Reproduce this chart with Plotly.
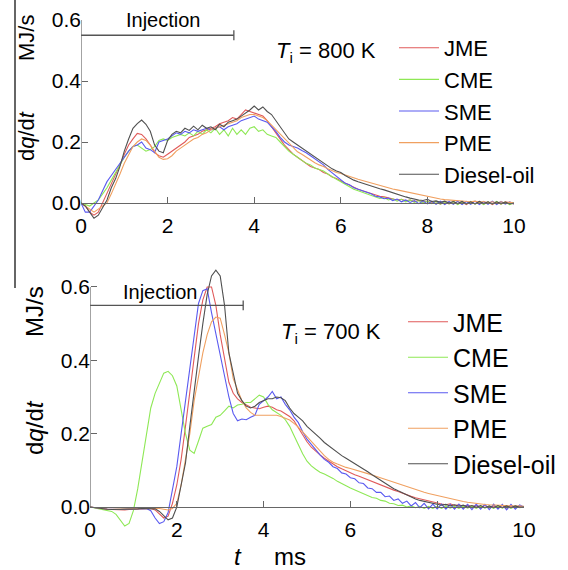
import numpy as np
import plotly.graph_objects as go

# time axis (ms), 0.1 ms step
t = [round(0.1 * i, 1) for i in range(101)]

series_names = ["JME", "CME", "SME", "PME", "Diesel-oil"]
colors = ["#e05a5a", "#8ee855", "#5a5af0", "#f0a060", "#505050"]

# ---------------- Ti = 800 K ----------------
jme_800 = [0, -0.01, -0.03, -0.04, -0.03, 0.0, 0.03, 0.06, 0.09, 0.125,
           0.16, 0.19, 0.21, 0.228, 0.225, 0.21, 0.19, 0.165, 0.155, 0.15,
           0.16, 0.17, 0.18, 0.19, 0.2, 0.215, 0.22, 0.225, 0.235, 0.24,
           0.245, 0.25, 0.26, 0.265, 0.27, 0.28, 0.275, 0.29, 0.305, 0.3,
           0.295, 0.29, 0.285, 0.27, 0.25, 0.23, 0.21, 0.19, 0.175, 0.16,
           0.15, 0.14, 0.13, 0.12, 0.115, 0.11, 0.1, 0.095, 0.085, 0.08,
           0.072, 0.065, 0.058, 0.05, 0.045, 0.04, 0.035, 0.03, 0.027, 0.022,
           0.02, 0.016, 0.013, 0.01, 0.012, 0.007, 0.01, 0.005, 0.008, 0.003,
           0.006, 0.0, 0.005, -0.004, 0.004, -0.003, 0.005, -0.004, 0.003, -0.005,
           0.004, -0.003, 0.005, -0.004, 0.004, -0.005, 0.003, -0.004, 0.004, 0.0,
           -0.003]
cme_800 = [0, -0.005, -0.01, 0.0, 0.01, 0.03, 0.05, 0.075, 0.1, 0.125,
           0.15, 0.17, 0.185, 0.19, 0.18, 0.17, 0.175, 0.185, 0.205, 0.21,
           0.205, 0.215, 0.22, 0.225, 0.22, 0.23, 0.22, 0.235, 0.225, 0.24,
           0.23, 0.245, 0.225, 0.24, 0.22, 0.245, 0.225, 0.24, 0.225, 0.245,
           0.25, 0.235, 0.24, 0.225, 0.22, 0.215, 0.2, 0.185, 0.17, 0.16,
           0.15, 0.14, 0.13, 0.125, 0.115, 0.11, 0.105, 0.095, 0.085, 0.078,
           0.07, 0.062, 0.055, 0.045, 0.04, 0.035, 0.03, 0.025, 0.022, 0.015,
           0.018, 0.01, 0.014, 0.006, 0.012, 0.004, 0.01, 0.002, 0.008, 0.0,
           0.006, -0.002, 0.005, -0.004, 0.004, -0.003, 0.005, -0.005, 0.004, -0.003,
           0.005, -0.004, 0.003, -0.005, 0.004, -0.003, 0.005, -0.004, 0.003, -0.005,
           0.0]
sme_800 = [0, -0.03, -0.03, -0.01, 0.01, 0.04, 0.07, 0.09, 0.11, 0.13,
           0.15, 0.17, 0.185, 0.19, 0.2, 0.18, 0.175, 0.165, 0.2, 0.205,
           0.21, 0.22, 0.23, 0.225, 0.235, 0.23, 0.24, 0.235, 0.24, 0.245,
           0.24, 0.245, 0.25, 0.24, 0.25, 0.255, 0.26, 0.27, 0.275, 0.28,
           0.285, 0.275, 0.27, 0.265, 0.25, 0.235, 0.215, 0.2, 0.19, 0.185,
           0.18, 0.172, 0.165, 0.155, 0.145, 0.135, 0.125, 0.11, 0.098, 0.086,
           0.075, 0.065, 0.06, 0.05, 0.045, 0.04, 0.033, 0.03, 0.022, 0.02,
           0.014, 0.016, 0.008, 0.013, 0.004, 0.01, 0.002, 0.008, -0.002, 0.007,
           -0.003, 0.006, -0.004, 0.006, -0.005, 0.005, -0.004, 0.006, -0.005, 0.005,
           -0.004, 0.006, -0.005, 0.005, -0.004, 0.006, -0.005, 0.005, -0.004, 0.004,
           -0.003]
pme_800 = [0, -0.01, -0.02, -0.03, -0.02, -0.01, 0.0, 0.03, 0.06, 0.095,
           0.13, 0.16, 0.185, 0.2, 0.21, 0.205, 0.19, 0.17, 0.15, 0.143,
           0.145, 0.155, 0.17, 0.18, 0.19, 0.2, 0.21, 0.215, 0.225, 0.23,
           0.24, 0.245, 0.25, 0.255, 0.26, 0.265, 0.27, 0.28, 0.285, 0.29,
           0.29, 0.285, 0.28, 0.27, 0.255, 0.24, 0.225, 0.21, 0.195, 0.18,
           0.168, 0.16, 0.15, 0.14, 0.132, 0.125, 0.12, 0.112, 0.106, 0.1,
           0.097, 0.092, 0.086, 0.082, 0.078, 0.074, 0.07, 0.065, 0.06, 0.057,
           0.053, 0.05, 0.046, 0.043, 0.04, 0.037, 0.033, 0.03, 0.026, 0.023,
           0.02, 0.018, 0.015, 0.013, 0.011, 0.01, 0.008, 0.007, 0.006, 0.005,
           0.004, 0.006, 0.002, 0.005, 0.001, 0.004, 0.0, 0.004, 0.0, 0.003,
           0.0]
diesel_800 = [0, -0.01, -0.03, -0.05, -0.04, -0.015, 0.01, 0.05, 0.08, 0.12,
              0.17, 0.21, 0.245, 0.26, 0.272, 0.258, 0.235, 0.19, 0.17, 0.165,
              0.205, 0.225, 0.235, 0.23, 0.245, 0.238, 0.252, 0.24, 0.255, 0.245,
              0.25, 0.24, 0.258, 0.25, 0.265, 0.27, 0.275, 0.285, 0.295, 0.305,
              0.318, 0.305, 0.315, 0.3, 0.29, 0.27, 0.25, 0.23, 0.21, 0.2,
              0.19, 0.18, 0.17, 0.16, 0.15, 0.14, 0.13, 0.12, 0.112, 0.105,
              0.1, 0.09, 0.082, 0.075, 0.07, 0.065, 0.06, 0.055, 0.05, 0.047,
              0.043, 0.038, 0.034, 0.03, 0.025, 0.02, 0.016, 0.012, 0.01, 0.008,
              0.012, 0.005, 0.007, 0.002, 0.006, 0.0, 0.005, -0.002, 0.005, -0.003,
              0.004, -0.003, 0.005, -0.002, 0.004, -0.003, 0.004, -0.002, 0.003, -0.003,
              0.0]

# ---------------- Ti = 700 K ----------------
jme_700 = [0, -0.002, -0.004, -0.005, -0.006, -0.007, -0.008, -0.008, -0.008, -0.007,
           -0.006, -0.005, -0.005, -0.004, -0.004, -0.008, -0.02, -0.03, -0.025, 0.01,
           0.06, 0.13, 0.22, 0.31, 0.41, 0.5, 0.565, 0.6, 0.6, 0.55,
           0.47, 0.4, 0.34, 0.31, 0.295, 0.285, 0.278, 0.272, 0.27, 0.268,
           0.272, 0.275, 0.272, 0.265, 0.262, 0.255, 0.247, 0.235, 0.215, 0.195,
           0.178, 0.163, 0.152, 0.142, 0.133, 0.125, 0.118, 0.11, 0.104, 0.098,
           0.093, 0.088, 0.084, 0.079, 0.075, 0.07, 0.066, 0.061, 0.056, 0.051,
           0.046, 0.042, 0.037, 0.033, 0.029, 0.025, 0.022, 0.018, 0.015, 0.012,
           0.01, 0.008, 0.006, 0.009, 0.004, 0.006, 0.002, 0.005, 0.001, 0.004,
           0.0, 0.004, -0.002, 0.003, -0.002, 0.004, -0.003, 0.003, -0.002, 0.002,
           0.0]
cme_700 = [0, -0.002, -0.005, -0.008, -0.01, -0.012, -0.02, -0.035, -0.052, -0.045,
           -0.01, 0.05, 0.12, 0.2, 0.27, 0.31, 0.34, 0.365, 0.37, 0.358,
           0.33, 0.27, 0.2, 0.155, 0.146, 0.18, 0.215, 0.22, 0.225, 0.245,
           0.25, 0.262, 0.275, 0.27, 0.278, 0.28, 0.285, 0.285, 0.295, 0.305,
           0.3, 0.28, 0.265, 0.258, 0.25, 0.238, 0.22, 0.195, 0.17, 0.145,
           0.125, 0.112, 0.103, 0.095, 0.09, 0.085, 0.078, 0.07, 0.065, 0.058,
           0.052, 0.047, 0.043, 0.036, 0.032, 0.026, 0.024, 0.018, 0.016, 0.01,
           0.009, 0.004, 0.005, 0.0, 0.003, -0.002, 0.002, -0.004, 0.002, -0.004,
           0.002, -0.004, 0.003, -0.003, 0.002, -0.004, 0.003, -0.003, 0.002, -0.004,
           0.003, -0.003, 0.002, -0.004, 0.003, -0.003, 0.002, -0.004, 0.002, -0.002,
           0.0]
sme_700 = [0, -0.002, -0.004, -0.005, -0.006, -0.006, -0.007, -0.007, -0.006, -0.006,
           -0.005, -0.005, -0.004, -0.004, -0.01, -0.03, -0.045, -0.04, -0.015, 0.05,
           0.11, 0.2, 0.29, 0.38, 0.48, 0.555, 0.59, 0.595, 0.53, 0.47,
           0.42, 0.36, 0.3, 0.255, 0.235, 0.24, 0.238, 0.245, 0.25, 0.28,
           0.29, 0.3, 0.315, 0.295, 0.3, 0.28, 0.265, 0.245, 0.23, 0.205,
           0.185, 0.17, 0.155, 0.142, 0.13, 0.122, 0.11, 0.105, 0.093, 0.09,
           0.08, 0.077, 0.066, 0.064, 0.052, 0.05, 0.04, 0.04, 0.028, 0.03,
           0.018, 0.022, 0.01, 0.016, 0.003, 0.012, -0.002, 0.01, -0.005, 0.008,
           -0.005, 0.008, -0.006, 0.007, -0.006, 0.008, -0.006, 0.007, -0.007, 0.008,
           -0.006, 0.007, -0.007, 0.008, -0.006, 0.007, -0.008, 0.007, -0.006, 0.006,
           0.0]
pme_700 = [0, -0.002, -0.004, -0.005, -0.006, -0.006, -0.006, -0.006, -0.005, -0.005,
           -0.004, -0.004, -0.004, -0.003, -0.003, -0.003, -0.004, -0.006, -0.008, -0.004,
           0.01, 0.06, 0.13, 0.2, 0.29, 0.36, 0.42, 0.47, 0.505, 0.518,
           0.515, 0.47, 0.42, 0.35, 0.32, 0.29, 0.27, 0.258, 0.25, 0.25,
           0.248, 0.25, 0.25, 0.25, 0.247, 0.243, 0.237, 0.228, 0.218, 0.205,
           0.192, 0.178, 0.165, 0.152, 0.14, 0.13, 0.122, 0.117, 0.112, 0.108,
           0.105, 0.102, 0.098, 0.095, 0.091, 0.087, 0.083, 0.078, 0.074, 0.07,
           0.066, 0.062, 0.058, 0.054, 0.05, 0.047, 0.044, 0.04, 0.037, 0.034,
           0.031, 0.028, 0.025, 0.022, 0.019, 0.017, 0.015, 0.013, 0.011, 0.01,
           0.008, 0.007, 0.006, 0.005, 0.005, 0.004, 0.004, 0.003, 0.003, 0.002,
           0.002]
diesel_700 = [0, -0.002, -0.004, -0.005, -0.006, -0.007, -0.007, -0.007, -0.006, -0.006,
              -0.005, -0.005, -0.004, -0.004, -0.004, -0.005, -0.012, -0.025, -0.035, -0.03,
              0.0, 0.06, 0.12, 0.22, 0.32, 0.41, 0.5, 0.58, 0.63, 0.646,
              0.63, 0.55, 0.42, 0.36, 0.31, 0.29, 0.275, 0.27, 0.275, 0.285,
              0.29, 0.295, 0.295, 0.3, 0.298, 0.29, 0.27, 0.255, 0.245, 0.235,
              0.22, 0.21, 0.198, 0.188, 0.176, 0.167, 0.158, 0.148, 0.14, 0.133,
              0.126, 0.118, 0.11, 0.103, 0.096, 0.088, 0.08, 0.073, 0.065, 0.058,
              0.05, 0.044, 0.038, 0.032, 0.026, 0.022, 0.018, 0.015, 0.013, 0.01,
              0.008, 0.005, 0.007, 0.003, 0.006, 0.002, 0.005, 0.0, 0.004, -0.001,
              0.004, -0.002, 0.003, -0.002, 0.004, -0.002, 0.003, -0.002, 0.003, -0.001,
              0.0]

data_800 = [jme_800, cme_800, sme_800, pme_800, diesel_800]
data_700 = [jme_700, cme_700, sme_700, pme_700, diesel_700]

# injection period markers
injection_end = 3.53
injection_level = 0.55

W, H = 568, 570
FONT = "Liberation Sans, Arial, sans-serif"

def px(x):
    return x / W

def py(y):
    return 1 - y / H

fig = go.Figure()

for name, col, ys in zip(series_names, colors, data_800):
    fig.add_trace(go.Scatter(x=t, y=ys, mode="lines", name=name,
                             line=dict(color=col, width=1.1),
                             xaxis="x", yaxis="y", legend="legend"))
for name, col, ys in zip(series_names, colors, data_700):
    fig.add_trace(go.Scatter(x=t, y=ys, mode="lines", name=name,
                             line=dict(color=col, width=1.1),
                             xaxis="x2", yaxis="y2", legend="legend2"))

# injection bars
for xa, ya in (("x", "y"), ("x2", "y2")):
    fig.add_trace(go.Scatter(x=[0, injection_end], y=[injection_level, injection_level],
                             mode="lines", line=dict(color="#555555", width=1.3),
                             showlegend=False, xaxis=xa, yaxis=ya, hoverinfo="skip"))
    fig.add_trace(go.Scatter(x=[injection_end], y=[injection_level], mode="markers",
                             marker=dict(symbol="line-ns", size=7,
                                         line=dict(color="#555555", width=1.3)),
                             showlegend=False, xaxis=xa, yaxis=ya, hoverinfo="skip"))

# geometry (pixels)
top = dict(x0=81, x1=514, y0=203, ppu=305, ymin=-0.07, ymax=0.6)
bot = dict(x0=90, x1=524, y0=507, ppu=366.7, ymin=-0.07, ymax=0.68)

def ydom(g):
    return [py(g["y0"] - g["ymin"] * g["ppu"]), py(g["y0"] - g["ymax"] * g["ppu"])]

tick_font = dict(family=FONT, size=21, color="black")
axis_col = "#666666"

common_x = dict(range=[0, 10], tickvals=[0, 2, 4, 6, 8, 10], ticks="inside", ticklen=6,
                tickcolor=axis_col, showline=True, linecolor=axis_col, linewidth=1.2,
                showgrid=False, zeroline=False, tickfont=tick_font, anchor="free",
                ticklabelstandoff=4, automargin=False)
common_y = dict(tickvals=[0, 0.2, 0.4, 0.6], ticktext=["0.0", "0.2", "0.4", "0.6"],
                ticks="inside", ticklen=6, tickcolor=axis_col, showline=False,
                showgrid=False, zeroline=False, tickfont=tick_font, anchor="free",
                automargin=False)

fig.update_layout(
    width=W, height=H, margin=dict(l=0, r=0, t=0, b=0, autoexpand=False),
    paper_bgcolor="white", plot_bgcolor="white",
    font=dict(family=FONT, color="black"),
    xaxis=dict(domain=[px(top["x0"]), px(top["x1"])], position=py(top["y0"]), **common_x),
    yaxis=dict(domain=ydom(top), range=[top["ymin"], top["ymax"]],
               position=px(top["x0"]), **common_y),
    xaxis2=dict(domain=[px(bot["x0"]), px(bot["x1"])], position=py(bot["y0"]), **common_x),
    yaxis2=dict(domain=ydom(bot), range=[bot["ymin"], bot["ymax"]],
                position=px(bot["x0"]), **common_y),
    legend=dict(x=px(394), y=py(27), xanchor="left", yanchor="top",
                font=dict(family=FONT, size=22), bgcolor="rgba(0,0,0,0)",
                itemwidth=40, tracegroupgap=0),
    legend2=dict(x=px(403), y=py(299), xanchor="left", yanchor="top",
                 font=dict(family=FONT, size=25), bgcolor="rgba(0,0,0,0)",
                 itemwidth=40, tracegroupgap=0),
    showlegend=True,
)

# axis lines for y (from 0 to 0.6 only)
for xr, yr in (("x", "y"), ("x2", "y2")):
    fig.add_shape(type="line", xref=xr, yref=yr, x0=0, x1=0, y0=0, y1=0.6,
                  line=dict(color=axis_col, width=1.2))

# stray vertical rule at left edge
fig.add_shape(type="line", xref="paper", yref="paper", x0=px(15), x1=px(15),
              y0=py(0), y1=py(288), line=dict(color="#333333", width=1.5))

ann = []
def add_text(text, x, y, size, xanchor="center", angle=0):
    ann.append(dict(text=text, x=px(x), y=py(y), xref="paper", yref="paper",
                    showarrow=False, xanchor=xanchor, yanchor="middle",
                    textangle=angle, font=dict(family=FONT, size=size, color="black")))

add_text("Injection", 163, 20, 20)
add_text("Injection", 160, 292, 20)
add_text("<i>T</i><sub>i</sub> = 800 K", 274, 52, 22, xanchor="left")
add_text("<i>T</i><sub>i</sub> = 700 K", 279, 333, 22, xanchor="left")
add_text("MJ/s", 27, 38, 22, angle=-90)
add_text("d<i>q</i>/d<i>t</i>", 27, 136, 22, angle=-90)
add_text("MJ/s", 34, 312, 24, angle=-90)
add_text("d<i>q</i>/d<i>t</i>", 34, 428, 24, angle=-90)
add_text("<i>t</i>", 238, 556, 24)
add_text("ms", 290, 556, 24)
fig.update_layout(annotations=ann)

fig.write_html("out.html")
